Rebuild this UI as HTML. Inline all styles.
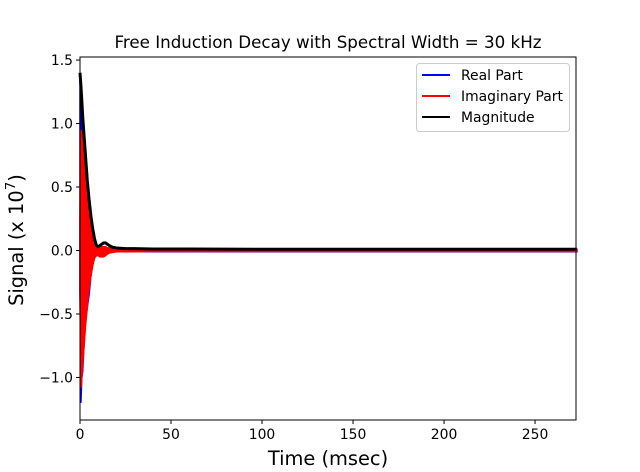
<!DOCTYPE html>
<html><head><meta charset="utf-8"><style>
body{margin:0;background:#fff;}
svg{display:block;font-family:"DejaVu Sans","Liberation Sans",sans-serif;}
</style></head><body>
<svg id="chart" width="640" height="472">
<rect width="640" height="472" fill="#fff"/>
<text x="328" y="48" text-anchor="middle" font-size="16.7">Free Induction Decay with Spectral Width = 30 kHz</text>
<g id="plot"></g>
<text x="328" y="465" text-anchor="middle" font-size="19.4">Time (msec)</text>
<text transform="translate(23,240) rotate(-90)" text-anchor="middle" font-size="19.4">Signal (x 10<tspan dy="-8" font-size="13.5">7</tspan><tspan dy="8">)</tspan></text>
<g>
<rect x="416.5" y="63.5" width="153" height="68" rx="3" fill="#fff" stroke="#ccc"/>
<line x1="422" y1="75" x2="450" y2="75" stroke="#0000ff" stroke-width="2"/>
<text x="461" y="80" font-size="13.9">Real Part</text>
<line x1="422" y1="96" x2="450" y2="96" stroke="#ff0000" stroke-width="2"/>
<text x="461" y="101" font-size="13.9">Imaginary Part</text>
<line x1="422" y1="117" x2="450" y2="117" stroke="#000" stroke-width="2"/>
<text x="461" y="122" font-size="13.9">Magnitude</text>
</g>
</svg>
<script>
const times=[0,0.5,1,1.5,2,3,4,5,6,7,8,9,10,11,12,13,14,15,16,18,20,25,30,40,60,100,150,200,273];
const magnitude=[1.40,1.30,1.18,1.05,0.95,0.75,0.55,0.40,0.27,0.17,0.09,0.04,0.03,0.04,0.05,0.06,0.06,0.05,0.04,0.025,0.02,0.015,0.015,0.012,0.012,0.01,0.01,0.01,0.01];
const realMax=[1.38,1.25,1.12,1.0,0.9,0.7,0.5,0.36,0.24,0.14,0.06,0.03,0.02,0.03,0.03,0.03,0.03,0.02,0.02,0.015,0.01,0.01,0.01,0.01,0.01,0.01,0.01,0.01,0.01];
const realMin=[-0.3,-1.2,-1.0,-0.95,-0.8,-0.55,-0.45,-0.35,-0.2,-0.1,-0.04,-0.03,-0.02,-0.02,-0.03,-0.03,-0.03,-0.02,-0.015,-0.01,-0.01,-0.01,-0.01,-0.01,-0.01,-0.01,-0.01,-0.01,-0.01];
const imagMax=[0.2,0.95,0.9,0.85,0.8,0.6,0.45,0.3,0.2,0.12,0.05,0.03,0.03,0.03,0.03,0.03,0.03,0.02,0.02,0.01,0.01,0.01,0.01,0.008,0.008,0.008,0.008,0.008,0.008];
const imagMin=[-0.3,-1.08,-1.0,-0.9,-0.8,-0.6,-0.45,-0.3,-0.2,-0.12,-0.06,-0.04,-0.04,-0.05,-0.05,-0.05,-0.04,-0.03,-0.02,-0.015,-0.01,-0.01,-0.01,-0.008,-0.008,-0.008,-0.008,-0.008,-0.008];
const xTicks=[0,50,100,150,200,250];
const yTicks=[-1.0,-0.5,0.0,0.5,1.0,1.5];
const yTickLabels=["\u22121.0","\u22120.5","0.0","0.5","1.0","1.5"];

const L=80,R=576,T=57,B=420,xMin=0,xMax=272.5,yMin=-1.335,yMax=1.524;
const sx=v=>L+(v-xMin)/(xMax-xMin)*(R-L);
const sy=v=>B-(v-yMin)/(yMax-yMin)*(B-T);
const NS="http://www.w3.org/2000/svg";
const plot=document.getElementById('plot');
function mk(tag,attrs){const e=document.createElementNS(NS,tag);for(const k in attrs)e.setAttribute(k,attrs[k]);plot.appendChild(e);return e;}
function band(lo,hi,color,name){
  let d='M'+times.map((t,i)=>sx(t)+','+sy(hi[i])).join(' L');
  d+=' L'+times.map((t,i)=>sx(t)+','+sy(lo[i])).reverse().join(' L')+' Z';
  const p=mk('path',{d:d,fill:color,stroke:color,'stroke-width':1.5});
  
  
}
band(realMin,realMax,'#0000ff','real-part-series');
band(imagMin,imagMax,'#ff0000','imaginary-part-series');
const m=mk('path',{d:'M'+times.map((t,i)=>sx(t)+','+sy(magnitude[i])).join(' L'),fill:'none',stroke:'#000','stroke-width':3,'stroke-linejoin':'round'});


const frame=mk('rect',{x:L,y:T,width:R-L,height:B-T,fill:'none',stroke:'#000','stroke-width':1});


xTicks.forEach(v=>{
  const l=mk('line',{x1:sx(v),x2:sx(v),y1:B,y2:B+4,stroke:'#000'});
  
  
  const t=mk('text',{x:sx(v),y:B+19,'text-anchor':'middle','font-size':13.9});
  t.textContent=v;
  
  
});
yTicks.forEach((v,i)=>{
  const l=mk('line',{x1:L-4,x2:L,y1:sy(v),y2:sy(v),stroke:'#000'});
  
  
  const t=mk('text',{x:L-7,y:sy(v)+5,'text-anchor':'end','font-size':13.9});
  t.textContent=yTickLabels[i];
  
  
});
</script>
</body></html>
